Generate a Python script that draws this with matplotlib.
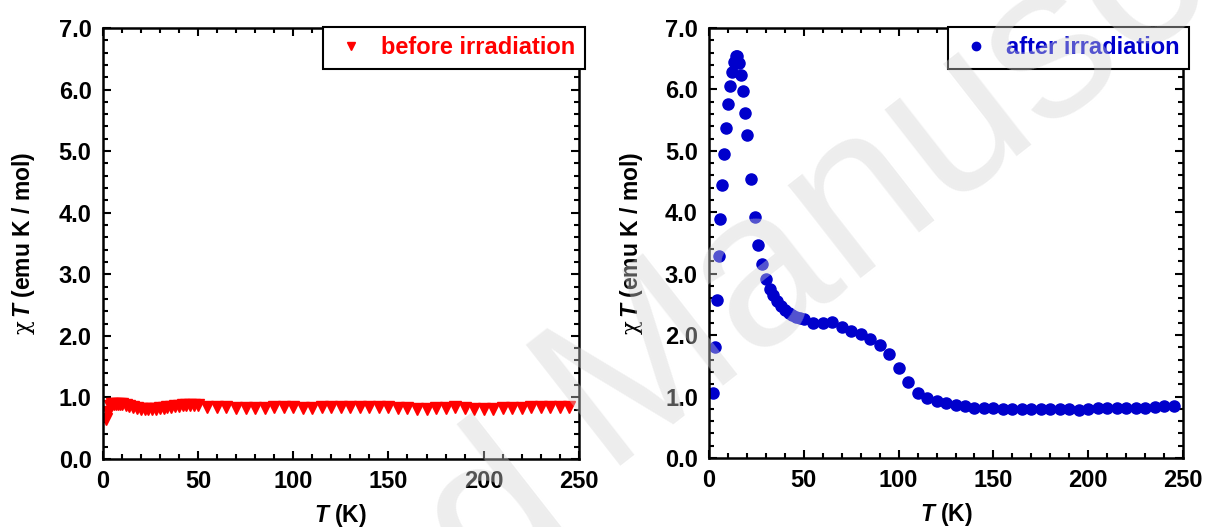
import matplotlib.pyplot as plt
from matplotlib.ticker import MultipleLocator, FormatStrFormatter

plt.rcParams['font.family'] = ['Liberation Sans', 'DejaVu Sans']
plt.rcParams['font.weight'] = 'bold'
plt.rcParams['mathtext.fontset'] = 'custom'
plt.rcParams['mathtext.rm'] = 'DejaVu Serif:weight=normal:style=normal'
plt.rcParams['mathtext.it'] = 'Liberation Sans:italic:bold'
plt.rcParams['mathtext.bf'] = 'Liberation Sans:bold'

# before irradiation (red triangles)
before_T = [2, 3, 4, 5, 6, 7, 8, 9, 10, 12, 14, 16, 18, 20, 22, 24, 26, 28, 30,
            32, 34, 36, 38, 40, 42, 44, 46, 48, 50,
            55, 60, 65, 70, 75, 80, 85, 90, 95, 100, 105, 110, 115, 120, 125,
            130, 135, 140, 145, 150, 155, 160, 165, 170, 175, 180, 185, 190,
            195, 200, 205, 210, 215, 220, 225, 230, 235, 240, 245]
before_chiT = [0.65, 0.76, 0.86, 0.89, 0.90, 0.90, 0.90, 0.90, 0.89, 0.88, 0.86,
               0.84, 0.83, 0.82, 0.82, 0.82, 0.82, 0.82, 0.83, 0.83, 0.84, 0.85,
               0.86, 0.86, 0.87, 0.87, 0.87, 0.87, 0.87,
               0.85, 0.84, 0.84, 0.83, 0.83, 0.83, 0.83, 0.84, 0.84, 0.84, 0.83,
               0.83, 0.84, 0.84, 0.84, 0.84, 0.85, 0.84, 0.84, 0.84, 0.83, 0.83,
               0.82, 0.82, 0.83, 0.83, 0.85, 0.83, 0.82, 0.81, 0.82, 0.83, 0.83,
               0.83, 0.84, 0.84, 0.84, 0.85, 0.85]

# after irradiation (blue circles)
after_T = [2, 3, 4, 5, 6, 7, 8, 9, 10, 11, 12, 13, 14, 15, 16, 17, 18, 19, 20,
           22, 24, 26, 28, 30, 32, 34, 36, 38, 40, 42, 44, 46, 48, 50,
           55, 60, 65, 70, 75, 80, 85, 90, 95, 100, 105, 110, 115, 120, 125,
           130, 135, 140, 145, 150, 155, 160, 165, 170, 175, 180, 185, 190,
           195, 200, 205, 210, 215, 220, 225, 230, 235, 240, 245]
after_chiT = [1.05, 1.80, 2.57, 3.28, 3.89, 4.44, 4.94, 5.37, 5.76, 6.05, 6.29,
              6.45, 6.55, 6.55, 6.43, 6.23, 5.97, 5.62, 5.25,
              4.54, 3.92, 3.47, 3.15, 2.92, 2.75, 2.65, 2.55, 2.47, 2.41, 2.36,
              2.33, 2.30, 2.28, 2.26,
              2.20, 2.20, 2.21, 2.13, 2.07, 2.01, 1.94, 1.84, 1.70, 1.47, 1.24,
              1.06, 0.97, 0.92, 0.89, 0.87, 0.85, 0.82, 0.81, 0.81, 0.80, 0.80,
              0.79, 0.79, 0.79, 0.79, 0.80, 0.80, 0.78, 0.80, 0.81, 0.81, 0.82,
              0.82, 0.82, 0.82, 0.83, 0.84, 0.84]

fig = plt.figure(figsize=(12.12, 5.27), dpi=100)
ax1 = fig.add_axes([0.0847, 0.129, 0.3930, 0.818])
ax2 = fig.add_axes([0.5850, 0.131, 0.3911, 0.816])

ax1.plot(before_T, before_chiT, linestyle='none', marker='v', markersize=8.5,
         color='#ff0000', label='before irradiation')
ax2.plot(after_T, after_chiT, linestyle='none', marker='o', markersize=8,
         color='#0000cc', label='after irradiation')

for ax, col, lab_x in [(ax1, '#ff0000', -0.138), (ax2, '#0000cc', -0.135)]:
    ax.set_facecolor('none')
    ax.set_xlim(0, 250)
    ax.set_ylim(0, 7)
    ax.xaxis.set_major_locator(MultipleLocator(50))
    ax.xaxis.set_minor_locator(MultipleLocator(10))
    ax.yaxis.set_major_locator(MultipleLocator(1.0))
    ax.yaxis.set_minor_locator(MultipleLocator(0.2))
    ax.yaxis.set_major_formatter(FormatStrFormatter('%.1f'))
    ax.tick_params(which='both', direction='in', top=True, right=True,
                   width=1.5, labelsize=17, pad=8)
    ax.tick_params(which='major', length=6)
    ax.tick_params(which='minor', length=3.8)
    for s in ax.spines.values():
        s.set_linewidth(1.8)
    ax.set_xlabel(r'$\mathit{T}$ (K)', fontsize=16.5, fontweight='bold')
    ax.set_ylabel(r'$\mathrm{\chi}\,\mathit{T}$ (emu K / mol)', fontsize=16.5,
                  fontweight='bold')
    ax.xaxis.set_label_coords(0.5, -0.100)
    ax.yaxis.set_label_coords(lab_x, 0.5)
    leg = ax.legend(loc='upper right', bbox_to_anchor=(1.012, 1.003),
                    borderaxespad=0, fancybox=False, edgecolor='black',
                    framealpha=1, markerscale=0.75, handlelength=1.6,
                    handletextpad=0.45,
                    prop={'size': 17, 'weight': 'bold'})
    leg.get_frame().set_linewidth(1.5)
    for t in leg.get_texts():
        t.set_color(col)

# watermark
fig.text(0.497, 0.116, 'Manuscript', rotation=38, rotation_mode='anchor',
         ha='left', va='baseline', fontsize=160, fontweight='normal',
         color='#d4d4d4', alpha=0.4, zorder=10)
fig.text(0.482, -0.003, 'Accepted', rotation=38, rotation_mode='anchor',
         ha='right', va='baseline', fontsize=160, fontweight='normal',
         color='#d4d4d4', alpha=0.4, zorder=10)

fig.savefig('out.png', dpi=100)
